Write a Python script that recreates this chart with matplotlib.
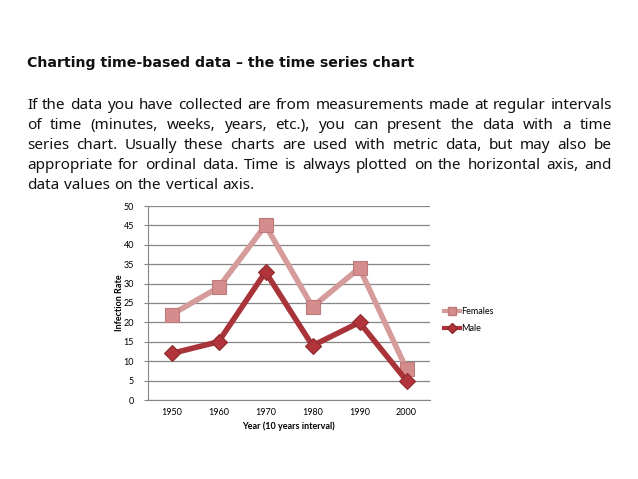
import matplotlib
matplotlib.use('Agg')
import matplotlib.pyplot as plt
from matplotlib.lines import Line2D

years = ['1950', '1960', '1970', '1980', '1990', '2000']
females = [22, 29, 45, 24, 34, 8]
male = [12, 15, 33, 14, 20, 5]

title = 'Charting time-based data \u2013 the time series chart'
body = [
    'If the data you have collected are from measurements made at regular intervals',
    'of time (minutes, weeks, years, etc.), you can present the data with a time',
    'series chart. Usually these charts are used with metric data, but may also be',
    'appropriate for ordinal data. Time is always plotted on the horizontal axis, and',
    'data values on the vertical axis.',
]

W, H = 638, 479
fig = plt.figure(figsize=(W / 100, H / 100), dpi=100)
fig.patch.set_facecolor('white')

def fx(px):
    return px / W

def fy(py):
    return 1 - py / H

text_font = 'Noto Sans'
fig.text(fx(27), fy(67), title, fontsize=10.2, fontweight='bold',
         family='DejaVu Sans', va='baseline', ha='left', color='#111111')

# justified body text, words placed one by one
renderer = fig.canvas.get_renderer()
left, right = 27, 612
line_y = [109, 129, 149, 169, 189]
for i, line in enumerate(body):
    words = line.split(' ')
    items = [fig.text(0, fy(line_y[i]), w, fontsize=11, family=text_font,
                      va='baseline', ha='left', color='#111111') for w in words]
    widths = [t.get_window_extent(renderer).width for t in items]
    if i < len(body) - 1:
        gap = (right - left - sum(widths)) / (len(words) - 1)
    else:
        gap = 4.5
    x = left
    for t, wd in zip(items, widths):
        t.set_x(fx(x))
        x += wd + gap

ax = fig.add_axes([fx(148), fy(400), fx(430) - fx(148), (400 - 206) / H])
xs = range(len(years))
fem_line = '#D69B9B'
male_line = '#A8343A'
ax.plot(xs, females, color=fem_line, lw=4, marker='s', markersize=10,
        markerfacecolor='#D58C8C', markeredgecolor='#BC7A7A', markeredgewidth=0.8,
        zorder=3, solid_joinstyle='miter')
ax.plot(xs, male, color=male_line, lw=4, marker='D', markersize=8,
        markerfacecolor='#B0343A', markeredgecolor='#8E2A2E', markeredgewidth=0.8,
        zorder=4, solid_joinstyle='miter')

ax.set_xlim(-0.5, len(years) - 0.5)
ax.set_ylim(0, 50)
ax.set_yticks(range(0, 51, 5))
ax.set_xticks(list(xs))
ax.set_xticklabels(years)
ax.yaxis.grid(True, color='#868686', lw=0.9)
ax.set_axisbelow(True)
for s in ['top', 'right']:
    ax.spines[s].set_visible(False)
ax.spines['left'].set_color('#868686')
ax.spines['bottom'].set_color('#868686')
ax.tick_params(axis='y', length=3, color='#868686', labelsize=6.5, pad=7)
ax.tick_params(axis='x', length=0, labelsize=6.5, pad=6)
for lab in ax.get_xticklabels() + ax.get_yticklabels():
    lab.set_family('Lato')
ax.set_xlabel('Year (10 years interval)', fontsize=6.5, fontweight='bold',
              family='Lato', labelpad=3)
ax.set_ylabel('Infection Rate', fontsize=6.5, fontweight='bold',
              family='Lato', labelpad=0)

handles = [
    Line2D([], [], color=fem_line, lw=3, marker='s', markersize=6,
           markerfacecolor='#D58C8C', markeredgecolor='#BC7A7A'),
    Line2D([], [], color=male_line, lw=3, marker='D', markersize=5,
           markerfacecolor='#B0343A', markeredgecolor='#8E2A2E'),
]
leg = fig.legend(handles, ['Females', 'Male'], loc='center left',
                 bbox_to_anchor=(fx(440), fy(320)), frameon=False,
                 prop={'family': 'Lato', 'size': 6.5}, handlelength=1.8,
                 handletextpad=0.1, labelspacing=0.9, borderaxespad=0)

fig.savefig('out.png', dpi=100, facecolor='white')
